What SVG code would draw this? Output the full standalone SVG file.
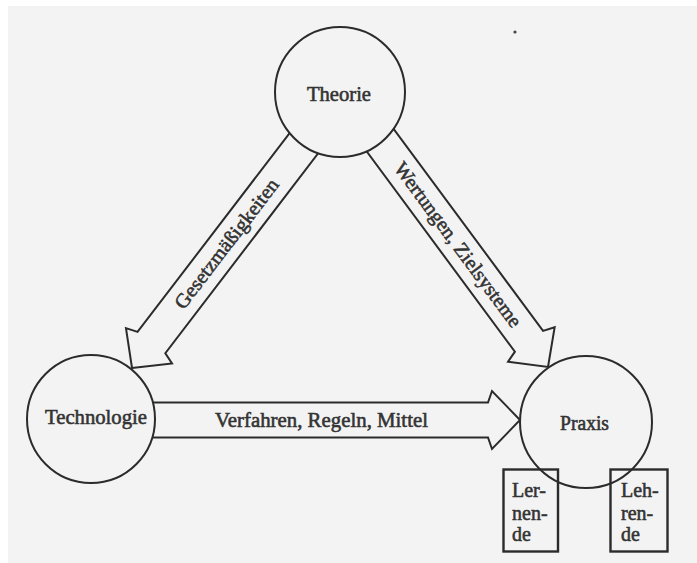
<svg xmlns="http://www.w3.org/2000/svg" width="697" height="563" viewBox="0 0 697 563">
<style>
.arrow{fill:#f3f3f3;stroke:#2b2b2b;stroke-width:2;stroke-linejoin:miter}
.node{fill:#f3f3f3;stroke:#2b2b2b;stroke-width:2}
.box{fill:none;stroke:#2b2b2b;stroke-width:2.4}
.t{font-family:"Liberation Serif","Times New Roman",serif;font-size:20px;fill:#333333;stroke:#333333;stroke-width:0.55}
.m{text-anchor:middle}
</style>
<defs>
<polygon id="arr" points="0,0 -28,-29 -32,-17.5 -300,-17.5 -300,17.5 -32,17.5 -28,29"/>
</defs>
<rect x="0" y="0" width="697" height="563" fill="#ffffff"/>
<rect x="8" y="6" width="689" height="557" fill="#f3f3f3"/>
<circle cx="515" cy="32" r="1.6" fill="#444"/>
<g id="connectors">
<g id="gesetz">
<use href="#arr" class="arrow" transform="translate(132,368) rotate(127.4)"/>
<text class="t m" transform="translate(227,244) rotate(-52.6)" x="0" y="6" textLength="158" lengthAdjust="spacingAndGlyphs">Gesetzmäßigkeiten</text>
</g>
<g id="wertungen">
<use href="#arr" class="arrow" transform="translate(548,367) rotate(53.5)"/>
<text class="t m" transform="translate(457.5,245) rotate(53.5)" x="0" y="6" textLength="200" lengthAdjust="spacingAndGlyphs">Wertungen, Zielsysteme</text>
</g>
<g id="verfahren">
<polygon class="arrow" points="520,420 492,391 488,402.5 140,402.5 140,437.5 488,437.5 492,449"/>
<text class="t" x="215" y="427" textLength="213" lengthAdjust="spacingAndGlyphs">Verfahren, Regeln, Mittel</text>
</g>
</g>
<g id="theorie">
<circle class="node" cx="340" cy="92" r="65"/>
<text class="t m" x="339" y="101" textLength="64" lengthAdjust="spacingAndGlyphs">Theorie</text>
</g>
<g id="technologie">
<circle class="node" cx="91" cy="419" r="64"/>
<text class="t m" x="96" y="424" textLength="102" lengthAdjust="spacingAndGlyphs">Technologie</text>
</g>
<g id="praxis">
<circle class="node" cx="586" cy="422" r="66"/>
<text class="t m" x="584.5" y="430" textLength="49" lengthAdjust="spacingAndGlyphs">Praxis</text>
</g>
<g id="lernende">
<rect class="box" x="503.5" y="469.5" width="54.5" height="82"/>
<text class="t" x="512" y="497">Ler-</text>
<text class="t" x="512" y="520">nen-</text>
<text class="t" x="512" y="541">de</text>
</g>
<g id="lehrende">
<rect class="box" x="610.5" y="469.5" width="57" height="82"/>
<text class="t" x="621" y="497">Leh-</text>
<text class="t" x="621" y="520">ren-</text>
<text class="t" x="621" y="541">de</text>
</g>
</svg>
